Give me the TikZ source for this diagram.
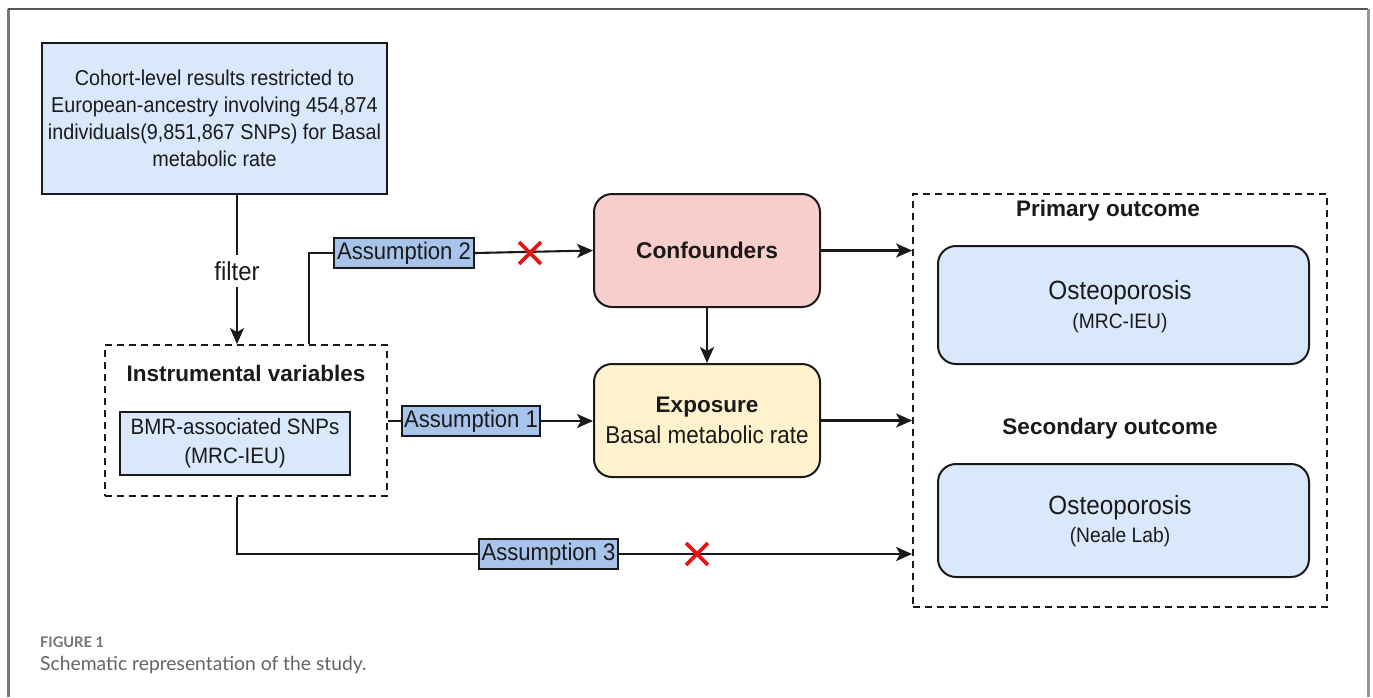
\documentclass[tikz,border=0pt]{standalone}
\usepackage{fontspec}
\setmainfont{Liberation Sans}[FakeStretch=0.92]
\newfontfamily\tbf{Liberation Sans}
\newfontfamily\capfont{Lato}
\usetikzlibrary{arrows.meta,shapes.misc,calc}
\definecolor{lblue}{HTML}{DAE8FC}
\definecolor{mblue}{HTML}{A9C4EB}
\definecolor{lred}{HTML}{F8CECC}
\definecolor{lyel}{HTML}{FFF2CC}
\definecolor{ink}{HTML}{1A1A1A}
\begin{document}
\begin{tikzpicture}[x=1pt,y=-1pt,
  every node/.style={text=ink},
  fbox/.style={draw=ink, line width=2pt, inner sep=0pt, align=center},
  sqbox/.style={fbox, fill=lblue},
  rbox/.style={fbox, rounded corners=18pt},
  dbox/.style={draw=ink, line width=1.8pt, dash pattern=on 7pt off 5pt, inner sep=0pt},
  asm/.style={fbox, fill=mblue, minimum height=30pt, font=\fontsize{24}{26}\selectfont},
  conn/.style={draw=ink, line width=2.1pt},
  arr/.style={conn, -{Stealth[length=16pt,width=14pt,inset=4pt]}},
  redx/.style={cross out, draw={rgb,255:red,230;green,20;blue,20}, line width=3.8pt, minimum size=18pt, inner sep=0pt},
  ttl/.style={font=\tbf\bfseries\fontsize{22.5}{25}\selectfont},
]
\useasboundingbox (0,0) rectangle (1373,697);
% outer frame
\draw[color={rgb,255:red,120;green,120;blue,120}, line width=3pt] (8,697) -- (8,9);
\draw[color={rgb,255:red,85;green,85;blue,85}, line width=2pt] (8,9) -- (1368,9);
\draw[color={rgb,255:red,150;green,150;blue,150}, line width=3pt] (1368,9) -- (1368,697);

% nodes
\node[sqbox, minimum width=345pt, minimum height=151pt, font=\fontsize{21.5}{27}\selectfont] (top) at (214.5,118.5)
  {Cohort-level results restricted to\\European-ancestry involving 454,874\\individuals(9,851,867 SNPs) for Basal\\metabolic rate};
\node[font=\fontsize{26}{28}\selectfont, inner sep=6pt] (filter) at (237,271) {filter};
\node[dbox, minimum width=282pt, minimum height=151pt] (instr) at (246,420.5) {};
\node[ttl] (instrt) at (246,373) {Instrumental variables};
\node[sqbox, minimum width=230pt, minimum height=63pt, font=\fontsize{22.3}{29}\selectfont] (bmr) at (235,443.5)
  {BMR-associated SNPs\\(MRC-IEU)};

\node[asm, minimum width=140pt] (a2) at (404,253) {Assumption 2};
\node[asm, minimum width=138pt] (a1) at (471,421) {Assumption 1};
\node[asm, minimum width=139pt] (a3) at (548.5,554) {Assumption 3};

\node[rbox, fill=lred, minimum width=226pt, minimum height=113pt, font=\tbf\bfseries\fontsize{22.8}{25}\selectfont] (conf) at (707,250.5) {Confounders};
\node[rbox, fill=lyel, minimum width=226pt, minimum height=113pt] (expo) at (707,420.5) {};
\node[ttl] (expot) at (707,407) {Exposure};
\node[font=\fontsize{24.4}{26}\selectfont] (expos) at (707,435) {Basal metabolic rate};

\node[dbox, minimum width=414pt, minimum height=413pt] (out) at (1120,400.5) {};
\node[ttl] (prim) at (1108,211) {Primary outcome};
\node[ttl] (sec) at (1110,429) {Secondary outcome};
\node[rbox, fill=lblue, minimum width=371pt, minimum height=118pt] (o1) at (1123.5,305) {};
\node[font=\fontsize{26.4}{28}\selectfont] (o1a) at (1120,293) {Osteoporosis};
\node[font=\fontsize{20.9}{24}\selectfont] (o1b) at (1120,323) {(MRC-IEU)};
\node[rbox, fill=lblue, minimum width=371pt, minimum height=113pt] (o2) at (1123.5,520.5) {};
\node[font=\fontsize{26.4}{28}\selectfont] (o2a) at (1120,508) {Osteoporosis};
\node[font=\fontsize{20.9}{24}\selectfont] (o2b) at (1120,537) {(Neale Lab)};

\coordinate (a2corner) at (309,253);

% connectors
\draw[conn] (top.south -| filter) -- (filter.north);
\draw[arr] (filter.south) -- (instr.north -| filter);
\draw[conn] (instr.north -| a2corner) |- (a2.west);
\draw[arr] (a2.east) -- (conf.west);
\draw[conn] (instr.east |- a1) -- (a1.west);
\draw[arr] (a1.east) -- (a1.east -| expo.west);
\draw[conn] (instr.south -| filter) |- (a3.west);
\draw[arr] (a3.east) -- (a3.east -| out.west);
\draw[arr] (conf.south) -- (expo.north);
\draw[arr] (conf.east) -- (conf.east -| out.west);
\draw[arr] (expo.east) -- (expo.east -| out.west);

\node[redx] (x2) at (530,253) {};
\node[redx] (x3) at (697,554) {};

% caption
\node[anchor=west, inner sep=0pt, text={rgb,255:red,115;green,115;blue,115}, font=\capfont\bfseries\fontsize{14.6}{16}\selectfont] (figl) at (40,642) {FIGURE 1};
\node[anchor=west, inner sep=0pt, text={rgb,255:red,100;green,100;blue,100}, font=\capfont\fontsize{19.3}{22}\selectfont] (cap) at (40,665) {Schematic representation of the study.};
\end{tikzpicture}
\end{document}
